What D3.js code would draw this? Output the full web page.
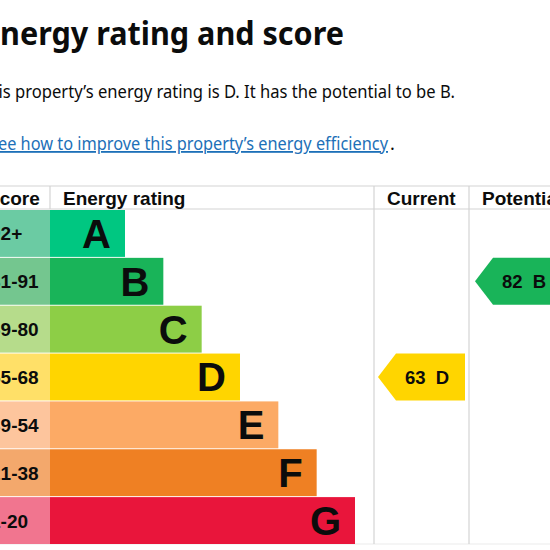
<!DOCTYPE html>
<html>
<head>
<meta charset="utf-8">
<script src="https://cdn.jsdelivr.net/npm/d3@7"></script>
<style>
  html, body { margin: 0; padding: 0; background: #fff; }
  svg { display: block; }
</style>
</head>
<body>
<div id="chart"></div>
<script>
// ratings, top to bottom
var ratings = ["A", "B", "C", "D", "E", "F", "G"];
var scoreBands = ["92+", "81-91", "69-80", "55-68", "39-54", "21-38", "1-20"];
var barColours = ["#00c781", "#19b459", "#8dce46", "#ffd500", "#fcaa65", "#ef8023", "#e9153b"];
var scoreColours = ["#6bcba3", "#74c68f", "#b6dc8b", "#ffe068", "#fdc59d", "#f3a86c", "#f1758f"];
var columns = ["Score", "Energy rating", "Current", "Potential"];
var currentScore = 63, currentRating = "D";
var potentialScore = 82, potentialRating = "B";

var title = "Energy rating and score";
var summary = "This property\u2019s energy rating is D. It has the potential to be B.";
var linkText = "See how to improve this property\u2019s energy efficiency";

var width = 550, height = 550;
var tableTop = 186, headTop = 209, tableBottom = 544;
var colX = [-20, 50, 374, 469, 580];

var svg = d3.select("#chart").append("svg")
    .attr("width", width)
    .attr("height", height);

// heading and text
var bodyFont = "'Noto Sans', 'Open Sans', sans-serif";

svg.append("text")
    .attr("x", -17).attr("y", 45)
    .attr("textLength", 361)
    .attr("lengthAdjust", "spacingAndGlyphs")
    .style("font-family", bodyFont)
    .style("font-weight", 700)
    .style("font-size", "32px")
    .style("fill", "#0b0c0c")
    .text(title);

svg.append("text")
    .attr("x", -21).attr("y", 98)
    .attr("textLength", 476)
    .attr("lengthAdjust", "spacingAndGlyphs")
    .style("font-family", bodyFont)
    .style("font-size", "18px")
    .style("fill", "#0b0c0c")
    .text(summary);

svg.append("text")
    .attr("x", -11).attr("y", 150)
    .attr("textLength", 399)
    .attr("lengthAdjust", "spacingAndGlyphs")
    .style("font-family", bodyFont)
    .style("font-size", "18px")
    .style("fill", "#1d70b8")
    .style("text-decoration", "underline")
    .text(linkText);

svg.append("text")
    .attr("x", 390).attr("y", 150)
    .style("font-family", bodyFont)
    .style("font-size", "18px")
    .style("fill", "#0b0c0c")
    .text(".");

// table
var y = d3.scaleBand()
    .domain(ratings)
    .range([headTop + 1, tableBottom])
    .paddingInner(0.02);

var barEnd = d3.scaleLinear()
    .domain([0, ratings.length - 1])
    .range([125, 355]);

var grid = svg.append("g").attr("class", "grid")
    .style("stroke", "#d4d4d4")
    .style("stroke-width", 1.2);

grid.append("line").attr("x1", 0).attr("x2", width).attr("y1", tableTop).attr("y2", tableTop);
grid.append("line").attr("x1", 0).attr("x2", width).attr("y1", headTop).attr("y2", headTop);
grid.append("line").attr("x1", 0).attr("x2", width).attr("y1", tableBottom).attr("y2", tableBottom)
    .style("stroke", "#ececec");
grid.append("line").attr("x1", colX[1]).attr("x2", colX[1]).attr("y1", tableTop).attr("y2", headTop);
grid.selectAll("line.col")
    .data([colX[2], colX[3]])
  .enter().append("line")
    .attr("class", "col")
    .attr("x1", function(d) { return d; })
    .attr("x2", function(d) { return d; })
    .attr("y1", tableTop)
    .attr("y2", tableBottom);

var tableFont = "'Liberation Sans', Arial, sans-serif";

svg.append("g").selectAll("text")
    .data(columns)
  .enter().append("text")
    .attr("x", function(d, i) { return i === 0 ? -13 : colX[i] + 13; })
    .attr("y", 205)
    .style("font-family", tableFont)
    .style("font-weight", 700)
    .style("font-size", "19px")
    .style("fill", "#0b0c0c")
    .text(function(d) { return d; });

var rows = svg.append("g").selectAll("g.row")
    .data(ratings)
  .enter().append("g")
    .attr("class", "row")
    .attr("transform", function(d) { return "translate(0," + y(d) + ")"; });

rows.append("rect")
    .attr("x", -20)
    .attr("width", 70)
    .attr("height", y.bandwidth())
    .style("fill", function(d, i) { return scoreColours[i]; });

rows.append("text")
    .attr("x", -10)
    .attr("y", y.bandwidth() / 2 + 7)
    .style("font-family", tableFont)
    .style("font-weight", 700)
    .style("font-size", "19px")
    .style("fill", "#0b0c0c")
    .text(function(d, i) { return scoreBands[i]; });

rows.append("rect")
    .attr("x", colX[1])
    .attr("width", function(d, i) { return barEnd(i) - colX[1]; })
    .attr("height", y.bandwidth())
    .style("fill", function(d, i) { return barColours[i]; });

rows.append("text")
    .attr("x", function(d, i) { return barEnd(i) - 14; })
    .attr("y", y.bandwidth() / 2 + 14.5)
    .attr("text-anchor", "end")
    .style("font-family", tableFont)
    .style("font-weight", 700)
    .style("font-size", "40px")
    .style("fill", "#0b0c0c")
    .text(function(d) { return d; });

// current / potential arrows
function arrow(left, right, score, rating) {
  var top = y(rating), h = y.bandwidth(), i = ratings.indexOf(rating);
  var pts = [[left, top + h / 2], [left + 18, top], [right, top], [right, top + h], [left + 18, top + h]];
  var g = svg.append("g");
  g.append("path")
      .attr("d", d3.line()(pts) + "Z")
      .style("fill", barColours[i]);
  g.append("text")
      .attr("x", left + 27)
      .attr("y", top + h / 2 + 6.5)
      .style("font-family", tableFont)
      .style("font-weight", 700)
      .style("font-size", "18.5px")
      .style("fill", "#0b0c0c")
      .attr("xml:space", "preserve")
      .text(score + "  " + rating);
}

arrow(colX[2] + 4, colX[3] - 4, currentScore, currentRating);
arrow(colX[3] + 6, colX[4], potentialScore, potentialRating);
</script>
</body>
</html>
